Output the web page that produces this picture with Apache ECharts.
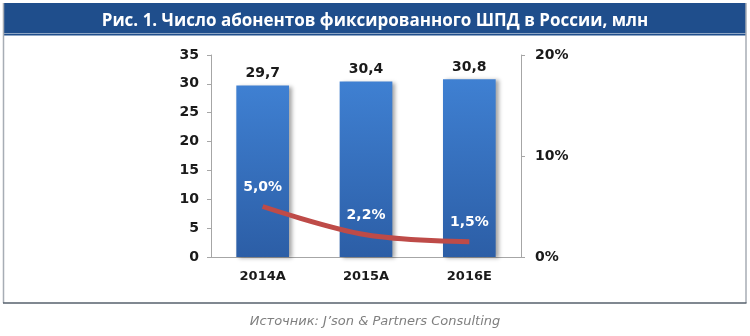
<!DOCTYPE html>
<html><head><meta charset="utf-8">
<script src="https://cdn.jsdelivr.net/npm/echarts@6/dist/echarts.min.js"></script>
<style>html,body{margin:0;padding:0;background:#fff}#c{width:750px;height:336px}</style>
</head><body><div id="c"></div>
<script>
var titleText = 'Рис. 1. Число абонентов фиксированного ШПД в России, млн';
var sourceText = 'Источник: J\u2019son & Partners Consulting';
var categories = ['2014A', '2015A', '2016E'];
var subscribers = [29.7, 30.4, 30.8];
var growthPct = [5.0, 2.2, 1.5];
var leftTicks = {min: 0, max: 35, interval: 5};
var rightTicks = {min: 0, max: 20, interval: 10};

var chart = echarts.init(document.getElementById('c'), null, {renderer: 'canvas'});
var axisFont = {fontFamily: 'DejaVu Sans', fontWeight: 'bold', color: '#1a1a1a'};
chart.setOption({
  animation: false,
  title: {
    text: titleText, left: 'center', top: 8,
    textStyle: {color: '#fff', fontSize: 17, fontWeight: 'bold', fontFamily: '"Open Sans", sans-serif'}
  },
  graphic: [
    {type: 'rect', z: -1, shape: {x: 3, y: 3, width: 743, height: 30}, style: {fill: '#1f4e8c'}},
    {type: 'rect', z: -1, shape: {x: 3, y: 33.5, width: 743, height: 2}, style: {fill: '#1f4e8c'}},
    {type: 'line', shape: {x1: 3.5, y1: 3, x2: 3.5, y2: 303}, style: {stroke: '#a7adb5', lineWidth: 1.5}},
    {type: 'line', shape: {x1: 746, y1: 3, x2: 746, y2: 303}, style: {stroke: '#a7adb5', lineWidth: 1.5}},
    {type: 'line', shape: {x1: 3, y1: 303, x2: 746.5, y2: 303}, style: {stroke: '#56606c', lineWidth: 1.5}},
    {type: 'text', left: 'center', top: 315, style: {text: sourceText, fill: '#7f7f7f', font: 'italic 13px "DejaVu Sans"'}}
  ],
  grid: {left: 211, right: 229, top: 55, bottom: 79},
  xAxis: {
    type: 'category', data: categories,
    axisLine: {lineStyle: {color: '#a6a6a6'}},
    axisTick: {length: 4, lineStyle: {color: '#a6a6a6'}},
    axisLabel: Object.assign({fontSize: 13, margin: 13}, axisFont)
  },
  yAxis: [
    {type: 'value', min: leftTicks.min, max: leftTicks.max, interval: leftTicks.interval,
     splitLine: {show: false},
     axisLine: {show: true, lineStyle: {color: '#a6a6a6'}},
     axisTick: {show: true, length: 4, lineStyle: {color: '#a6a6a6'}},
     axisLabel: Object.assign({fontSize: 14, margin: 12}, axisFont)},
    {type: 'value', min: rightTicks.min, max: rightTicks.max, interval: rightTicks.interval,
     position: 'right', splitLine: {show: false},
     axisLine: {show: true, lineStyle: {color: '#a6a6a6'}},
     axisTick: {show: true, length: 4, lineStyle: {color: '#a6a6a6'}},
     axisLabel: Object.assign({fontSize: 14, margin: 14, formatter: '{value}%'}, axisFont)}
  ],
  series: [
    {type: 'bar', data: subscribers, barWidth: '51%', yAxisIndex: 0,
     itemStyle: {
       color: new echarts.graphic.LinearGradient(0, 0, 0, 1, [{offset: 0, color: '#3f80d2'}, {offset: 1, color: '#2c5ea6'}]),
       shadowColor: 'rgba(0,0,0,0.35)', shadowBlur: 4, shadowOffsetX: 3, shadowOffsetY: 1
     },
     label: {show: true, position: 'top', distance: 5, fontSize: 14, fontWeight: 'bold', fontFamily: 'DejaVu Sans', color: '#1a1a1a',
       formatter: function (p) { return p.value.toFixed(1).replace('.', ','); }}
    },
    {type: 'line', data: growthPct, yAxisIndex: 1, smooth: 0.35, z: 5,
     symbol: 'circle', symbolSize: 2, showSymbol: true, itemStyle: {color: 'rgba(190,75,72,0)'},
     lineStyle: {color: '#be4b48', width: 5},
     labelLayout: {hideOverlap: false},
     label: {show: true, position: 'top', distance: 11, fontSize: 14, fontWeight: 'bold', fontFamily: 'DejaVu Sans', color: '#ffffff',
       formatter: function (p) { return p.value.toFixed(1).replace('.', ',') + '%'; }}
    }
  ]
});
</script></body></html>
